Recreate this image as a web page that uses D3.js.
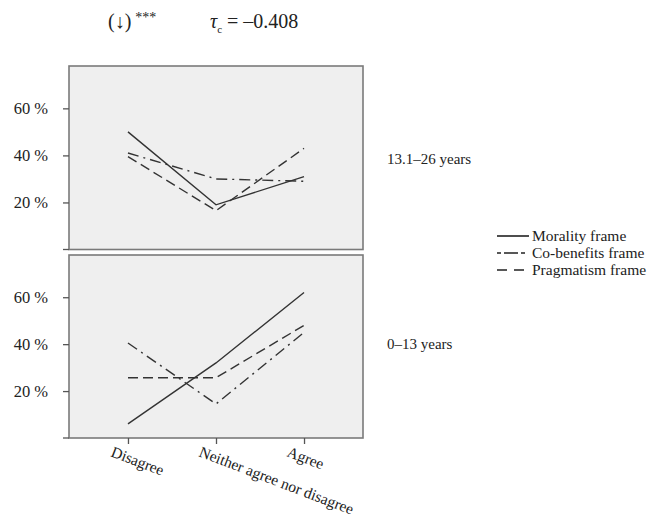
<!DOCTYPE html>
<html><head><meta charset="utf-8">
<script src="https://cdn.jsdelivr.net/npm/d3@7"></script>
<style>body{margin:0;background:#fff}svg{display:block}text{font-family:"Liberation Serif","DejaVu Serif",serif;fill:#222}</style>
</head><body><svg id="c" width="653" height="520"></svg>
<script>
const categories = ["Disagree", "Neither agree nor disagree", "Agree"];
const panels = ["13.1–26 years", "0–13 years"];
const seriesNames = ["Morality frame", "Co-benefits frame", "Pragmatism frame"];
const moralityTop = [50, 19, 31];
const cobenefitsTop = [41, 30, 29];
const pragmatismTop = [39.5, 16.5, 43];
const moralityBottom = [6, 32, 62];
const cobenefitsBottom = [40.5, 14.5, 45];
const pragmatismBottom = [25.7, 25.7, 48];
const yTicks = [20, 40, 60];
const yTickLabels = ["20 %", "40 %", "60 %"];

const dashes = ["none", "11,5,2,5", "10,5"];
const svg = d3.select("#c");
const x = d3.scalePoint().domain(categories).range([69, 363]).padding(0.67);
const panelBoxes = [{top: 66, bottom: 249.5}, {top: 255, bottom: 438}];
const panelData = [[moralityTop, cobenefitsTop, pragmatismTop], [moralityBottom, cobenefitsBottom, pragmatismBottom]];

panelBoxes.forEach((b, pi) => {
  const y = d3.scaleLinear().domain([0, 78]).range([b.bottom, b.top]);
  const g = svg.append("g");
  g.append("rect").attr("x", 69).attr("y", b.top).attr("width", 294).attr("height", b.bottom - b.top)
    .attr("fill", "#efefef").attr("stroke", "#7a7a7a").attr("stroke-width", 1.6);
  g.append("line").attr("x1", 63).attr("x2", 69).attr("y1", y(0)).attr("y2", y(0)).attr("stroke", "#555").attr("stroke-width", 1.3);
  const ax = g.append("g").attr("transform", "translate(69,0)")
    .call(d3.axisLeft(y).tickValues(yTicks).tickSize(6).tickPadding(15).tickFormat((d, i) => yTickLabels[i]));
  ax.select(".domain").remove();
  ax.selectAll(".tick line").attr("stroke", "#555").attr("stroke-width", 1.3);
  ax.selectAll(".tick text").style("font-size", "16.5px").attr("fill", "#222").style("font-family", '"Liberation Serif",serif');
  const line = d3.line().x((d, i) => x(categories[i])).y(d => y(d));
  panelData[pi].forEach((s, si) => {
    g.append("path").attr("d", line(s)).attr("fill", "none").attr("stroke", "#333")
      .attr("stroke-width", 1.4).attr("stroke-dasharray", dashes[si]);
  });
  g.append("text").attr("x", 387).attr("y", (pi === 0 ? 164 : 349)).style("font-size", "15px").text(panels[pi]);
});

const xa = svg.append("g").attr("transform", "translate(0,438)")
  .call(d3.axisBottom(x).tickSize(6).tickFormat(""));
xa.select(".domain").remove();
xa.selectAll(".tick line").attr("stroke", "#555").attr("stroke-width", 1.3);
categories.forEach(c => {
  svg.append("text").attr("transform", `translate(${x(c) - 18},${456}) rotate(21)`)
    .style("font-size", "15.5px").text(c);
});

const leg = svg.append("g");
seriesNames.forEach((n, i) => {
  const yy = 236 + i * 17;
  leg.append("line").attr("x1", 497).attr("x2", 529).attr("y1", yy).attr("y2", yy)
    .attr("stroke", "#222").attr("stroke-width", 1.6).attr("stroke-dasharray", i === 1 ? "4,3,14,3,4" : (i === 2 ? "10,7" : "none"));
  leg.append("text").attr("x", 532).attr("y", yy + 5).style("font-size", "15.5px").text(n);
});

const t = svg.append("text").attr("x", 108).attr("y", 28).style("font-size", "20px");
t.append("tspan").text("(↓)");
t.append("tspan").attr("dx", 4).attr("dy", -6).style("font-size", "14px").text("***");
const t2 = svg.append("text").attr("x", 210).attr("y", 28).style("font-size", "20px");
t2.append("tspan").style("font-style", "italic").text("τ");
t2.append("tspan").attr("dy", 5).style("font-size", "11px").text("c");
t2.append("tspan").attr("dy", -5).attr("dx", 5).text("= –0.408");
</script></body></html>
